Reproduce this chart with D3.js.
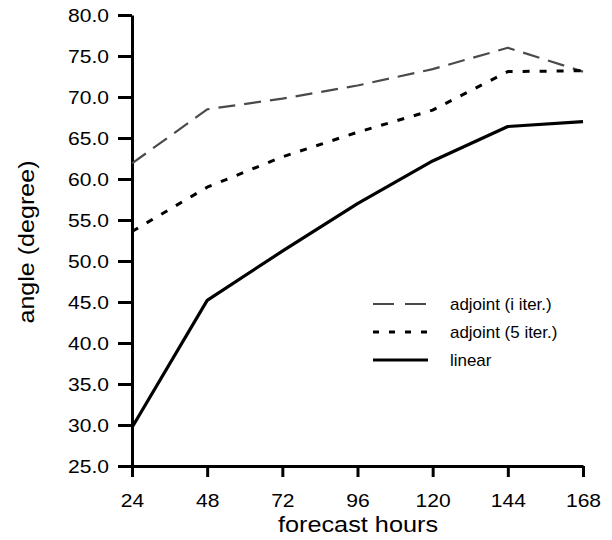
<!DOCTYPE html>
<html>
<head>
<meta charset="utf-8">
<script src="https://cdn.jsdelivr.net/npm/d3@7"></script>
<style>
  html, body { margin: 0; padding: 0; background: #fff; }
  svg { display: block; font-family: "Liberation Sans", Arial, sans-serif; }
</style>
</head>
<body>
<svg id="chart" width="612" height="540"></svg>
<script>
// Forecast lead times (hours)
const hours = [24, 48, 72, 96, 120, 144, 168];

// Angle (degree) per lead time
const adjoint1 = [61.9, 68.5, 69.8, 71.4, 73.4, 76.0, 73.1];
const adjoint5 = [53.6, 59.0, 62.7, 65.7, 68.4, 73.1, 73.2];
const linear   = [29.7, 45.2, 51.2, 57.0, 62.2, 66.4, 67.0];

const yTicks = [25, 30, 35, 40, 45, 50, 55, 60, 65, 70, 75, 80];
const seriesNames = ["adjoint (i iter.)", "adjoint (5 iter.)", "linear"];

const svg = d3.select("#chart");

const x = d3.scaleLinear().domain([24, 168]).range([132, 583]);
const y = d3.scaleLinear().domain([25, 80]).range([466, 15]);

const stretch = 1.17;

// y axis
const gy = svg.append("g")
  .attr("transform", `translate(${x(24)},0)`)
  .call(d3.axisLeft(y).tickValues(yTicks).tickSize(14).tickSizeOuter(0)
    .tickFormat(d3.format(".1f")).tickPadding(0));
gy.select(".domain").attr("stroke-width", 3);
gy.selectAll(".tick line").attr("stroke-width", 3);
gy.selectAll(".tick text")
  .attr("x", 0).attr("dy", "0.36em")
  .attr("transform", `translate(-23,0) scale(${stretch},1)`)
  .attr("font-size", 18).attr("fill", "#000");

// x axis
const gx = svg.append("g")
  .attr("transform", `translate(0,${y(25)})`)
  .call(d3.axisBottom(x).tickValues(hours).tickSize(11).tickSizeOuter(0).tickPadding(0));
gx.select(".domain").attr("stroke-width", 3);
gx.selectAll(".tick line").attr("stroke-width", 3);
gx.selectAll(".tick text")
  .attr("y", 0).attr("dy", 0)
  .attr("transform", `translate(0,41) scale(${stretch},1)`)
  .attr("font-size", 18).attr("fill", "#000");

// axis titles
svg.append("text")
  .attr("transform", `translate(358,532) scale(1.15,1)`)
  .attr("text-anchor", "middle")
  .attr("font-size", 22)
  .text("forecast hours");

svg.append("text")
  .attr("transform", `translate(34,242) rotate(-90) scale(1.14,1)`)
  .attr("text-anchor", "middle")
  .attr("font-size", 22)
  .text("angle (degree)");

// series lines
const styles = [
  { data: adjoint1, stroke: "#4a4a4a", width: 2.2, dash: "17,9", legendDash: "21,11" },
  { data: adjoint5, stroke: "#000", width: 3, dash: "7,10", legendDash: "6,10" },
  { data: linear,   stroke: "#000", width: 3.2, dash: null, legendDash: null }
];

const line = d3.line()
  .x((d, i) => x(hours[i]))
  .y(d => y(d));

styles.forEach(s => {
  svg.append("path")
    .datum(s.data)
    .attr("fill", "none")
    .attr("stroke", s.stroke)
    .attr("stroke-width", s.width)
    .attr("stroke-linejoin", "round")
    .attr("stroke-dasharray", s.dash)
    .attr("d", line);
});

// legend
const legendY = [304, 332, 360];
styles.forEach((s, i) => {
  svg.append("line")
    .attr("x1", 373).attr("x2", 428)
    .attr("y1", legendY[i]).attr("y2", legendY[i])
    .attr("stroke", s.stroke)
    .attr("stroke-width", s.width)
    .attr("stroke-dasharray", s.legendDash);
  svg.append("text")
    .attr("x", 450).attr("y", legendY[i])
    .attr("dy", "0.35em")
    .attr("font-size", 16)
    .attr("transform", `translate(${450 * (1 - 1.06)},0) scale(1.06,1)`)
    .text(seriesNames[i]);
});
</script>
</body>
</html>
